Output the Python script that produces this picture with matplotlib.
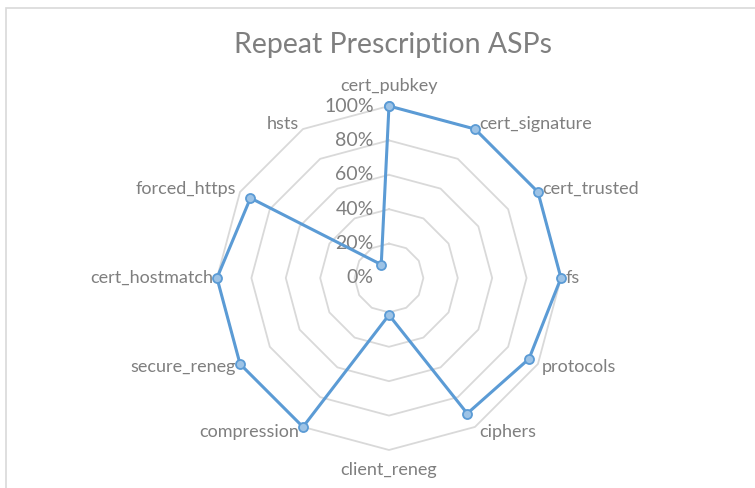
import numpy as np
import matplotlib.pyplot as plt
from matplotlib.patches import Rectangle

categories = ["cert_pubkey", "cert_signature", "cert_trusted", "fs", "protocols",
              "ciphers", "client_reneg", "compression", "secure_reneg",
              "cert_hostmatch", "forced_https", "hsts"]
values = [1.00, 1.00, 1.00, 1.00, 0.94, 0.91, 0.215, 1.00, 1.00, 1.00, 0.93, 0.09]
tick_vals = [0.0, 0.2, 0.4, 0.6, 0.8, 1.0]
tick_labels = ["0%", "20%", "40%", "60%", "80%", "100%"]

plt.rcParams['font.family'] = ['Lato', 'DejaVu Sans']
text_grey = "#7f7f7f"
line_blue = "#5b9bd5"

fig = plt.figure(figsize=(7.55, 4.88), dpi=100)
fig.patches.append(Rectangle((6 / 755, -0.1), 1.2, (488 - 8) / 488 + 0.1,
                             transform=fig.transFigure, fill=False,
                             edgecolor="#d9d9d9", linewidth=1.2))

ax = fig.add_axes([0.2874, 0.0779, 0.4556, 0.7049], projection="polar")
ax.set_theta_zero_location("N")
ax.set_theta_direction(-1)
ax.set_ylim(0, 1)
ax.grid(False)
ax.spines["polar"].set_visible(False)
ax.set_xticks([])
ax.set_yticks([])
ax.patch.set_alpha(0)

n = len(categories)
angles = np.arange(n) * 2 * np.pi / n
ring = np.append(angles, angles[0])

# polygon gridlines
for t in tick_vals[1:]:
    ax.plot(ring, [t] * (n + 1), color="#d9d9d9", linewidth=1.3, zorder=1, clip_on=False)

# radial tick labels along the top axis
for t, lab in zip(tick_vals, tick_labels):
    ax.annotate(lab, xy=(0, t), xytext=(-11, 0), textcoords="offset points",
                ha="right", va="center", fontsize=14, color=text_grey)

# category labels
for a, name in zip(angles, categories):
    s, c = np.sin(a), np.cos(a)
    if abs(s) < 0.1:
        ax.annotate(name, xy=(a, 1.0), xytext=(0, 9 * np.sign(c)), textcoords="offset points",
                    ha="center", va="bottom" if c > 0 else "top", fontsize=13, color=text_grey)
    else:
        ax.annotate(name, xy=(a, 1.0), xytext=(3 * np.sign(s), 4 * c), textcoords="offset points",
                    ha="left" if s > 0 else "right", va="center", fontsize=13, color=text_grey)

vals = np.append(values, values[0])
ax.plot(ring, vals, color=line_blue, linewidth=2.2, zorder=3, clip_on=False,
        marker="o", markersize=6.5, markerfacecolor="#9dc3e6",
        markeredgecolor=line_blue, markeredgewidth=1.3)

fig.text(393 / 755, 1 - 45 / 488, "Repeat Prescription ASPs", ha="center", va="center",
         fontsize=20.5, color="#7f7f7f")

fig.savefig("out.png", dpi=100)
